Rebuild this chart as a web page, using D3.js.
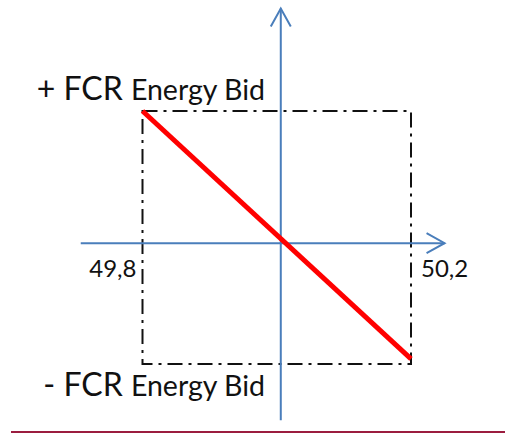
<!DOCTYPE html>
<html>
<head>
<meta charset="utf-8">
<script src="https://cdn.jsdelivr.net/npm/d3@7"></script>
<style>
  body { margin: 0; background: #fff; }
  svg { display: block; }
  text { font-family: Lato, "Open Sans", sans-serif; fill: #111; }
</style>
</head>
<body>
<div id="container"></div>
<script>
/* CONSTANTS AND GLOBALS */
const width = 505,
  height = 434;

// frequency band (Hz) and bid band (normalised)
const freqBand = [49.8, 50.2];
const bidBand = [-1, 1];
const freqLabels = ["49,8", "50,2"];
const bidLabels = ["+ FCR", "- FCR"];
const bidSubLabel = "Energy Bid";

// droop line
const droopFreq = [49.8, 50.2];
const droopBid = [1, -0.96];

// where the two axes cross, and how far they run
const originFreq = 50.006;
const originBid = -0.045;
const freqAxisExtent = [49.708, 50.25];
const bidAxisExtent = [-1.445, 1.81];

const x = d3.scaleLinear().domain(freqBand).range([142.5, 411]);
const y = d3.scaleLinear().domain(bidBand).range([364, 111]);

const svg = d3.select("#container")
  .append("svg")
  .attr("width", width)
  .attr("height", height)
  .style("background", "#fff");

const blue = "#4a7ebb";

// DASH-DOT BOX
svg.append("rect")
  .attr("x", x(freqBand[0]))
  .attr("y", y(bidBand[1]))
  .attr("width", x(freqBand[1]) - x(freqBand[0]))
  .attr("height", y(bidBand[0]) - y(bidBand[1]))
  .attr("fill", "none")
  .attr("stroke", "#111")
  .attr("stroke-width", 2)
  .attr("stroke-dasharray", "15,6,3,6");

// AXES
const axes = svg.append("g")
  .attr("stroke", blue)
  .attr("stroke-width", 2)
  .attr("fill", "none");

axes.append("line")
  .attr("x1", x(freqAxisExtent[0])).attr("x2", x(freqAxisExtent[1]))
  .attr("y1", y(originBid)).attr("y2", y(originBid));

axes.append("line")
  .attr("x1", x(originFreq)).attr("x2", x(originFreq))
  .attr("y1", y(bidAxisExtent[0])).attr("y2", y(bidAxisExtent[1]));

// arrow heads (open chevrons)
const hx = x(freqAxisExtent[1]), hy = y(originBid);
axes.append("path")
  .attr("d", `M${hx - 18},${hy - 10}L${hx},${hy}L${hx - 18},${hy + 10}`);
const vx = x(originFreq), vy = y(bidAxisExtent[1]);
axes.append("path")
  .attr("d", `M${vx - 10},${vy + 18}L${vx},${vy}L${vx + 10},${vy + 18}`);

// DROOP LINE
const droop = droopFreq.map((f, i) => ({ f, b: droopBid[i] }));
svg.append("path")
  .datum(droop)
  .attr("d", d3.line().x(d => x(d.f)).y(d => y(d.b)))
  .attr("stroke", "#ff0000")
  .attr("stroke-width", 5)
  .attr("fill", "none");

// FREQUENCY LABELS
svg.append("text")
  .attr("x", x(freqBand[0]) - 6)
  .attr("y", y(originBid) + 34)
  .attr("text-anchor", "end")
  .attr("font-size", 24)
  .text(freqLabels[0]);

svg.append("text")
  .attr("x", x(freqBand[1]) + 10)
  .attr("y", y(originBid) + 34)
  .attr("font-size", 24)
  .text(freqLabels[1]);

// BID LABELS
[[bidLabels[0], y(bidBand[1]) - 11], [bidLabels[1], y(bidBand[0]) + 32]].forEach(([lab, yy]) => {
  const t = svg.append("text")
    .attr("x", 265)
    .attr("y", yy)
    .attr("text-anchor", "end");
  t.append("tspan").attr("font-size", 32).text(lab + " ");
  t.append("tspan").attr("font-size", 28.5).text(bidSubLabel);
});

// BOTTOM RULE
svg.append("line")
  .attr("x1", 11).attr("x2", width)
  .attr("y1", 432).attr("y2", 432)
  .attr("stroke", "#9b1d3f")
  .attr("stroke-width", 2);
</script>
</body>
</html>
